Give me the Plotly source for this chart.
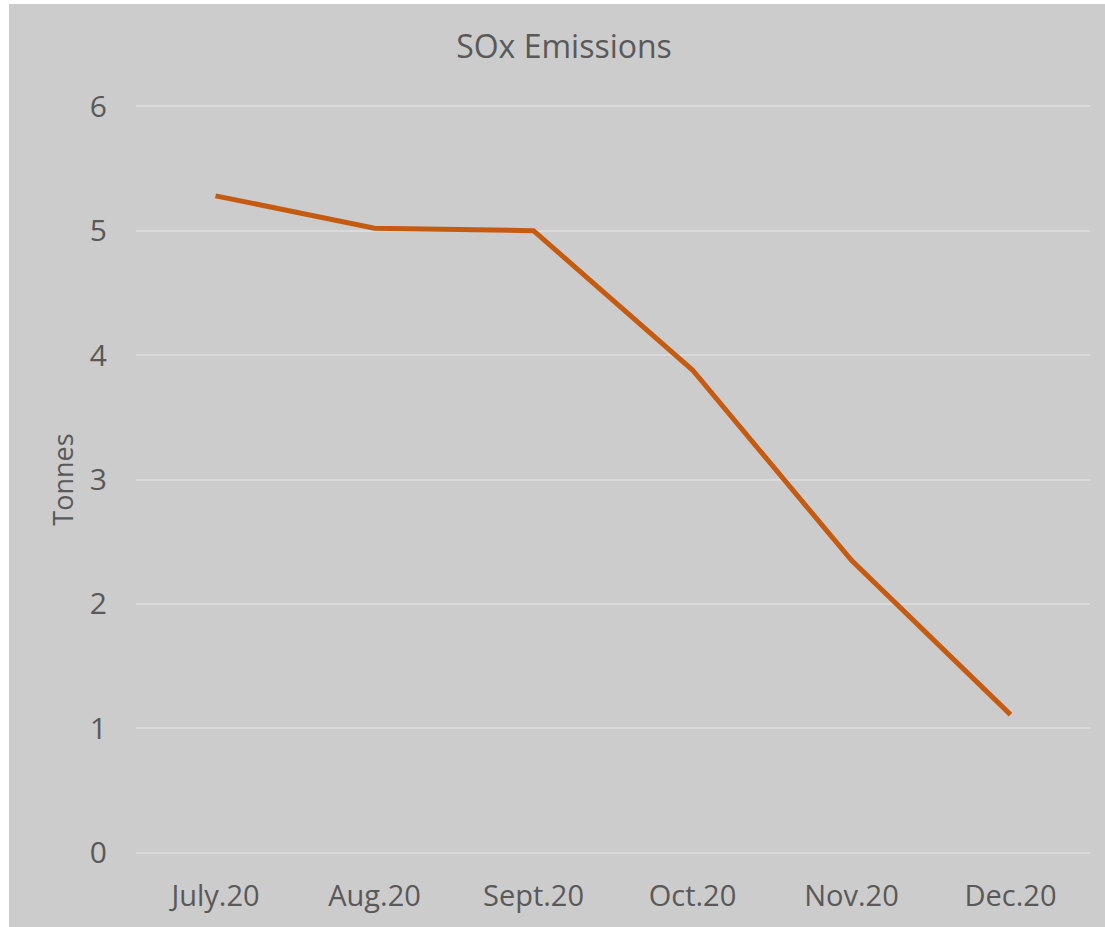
import plotly.graph_objects as go

months = ["July.20", "Aug.20", "Sept.20", "Oct.20", "Nov.20", "Dec.20"]
sox_tonnes = [5.28, 5.02, 5.0, 3.88, 2.35, 1.11]
y_ticks = [0, 1, 2, 3, 4, 5, 6]

bg = "#CCCCCC"
txt = "#595959"

W, H = 1096, 923

fig = go.Figure()
fig.add_trace(go.Scatter(
    x=months, y=sox_tonnes, mode="lines",
    line=dict(color="#C55A11", width=5),
    hoverinfo="x+y",
))

fig.update_layout(
    width=W, height=H,
    margin=dict(l=127, r=15, t=101, b=73),
    paper_bgcolor=bg, plot_bgcolor=bg,
    font=dict(family="Open Sans", color=txt, size=28),
    showlegend=False,
    title=dict(text="SOx Emissions", x=(564 - 9) / W, xanchor="center", y=1 - 43/H, yanchor="middle",
               font=dict(size=32, color=txt)),
    xaxis=dict(
        type="category", range=[-0.5, 5.5], showgrid=False, zeroline=False,
        showline=False, ticks="", tickfont=dict(size=29, color=txt),
        ticklabelstandoff=22,
    ),
    yaxis=dict(
        range=[-0.01, 6.01], tickvals=y_ticks, showgrid=True, gridcolor="#DADADA", gridwidth=2,
        zeroline=False, showline=False, ticks="", ticklabelstandoff=28,
        tickfont=dict(size=30, color=txt),
        title=dict(text="Tonnes", font=dict(size=27, color=txt), standoff=8),
    ),
)

fig.write_html("out.html", post_script="document.body.style.margin='4px 0 0 9px';")
